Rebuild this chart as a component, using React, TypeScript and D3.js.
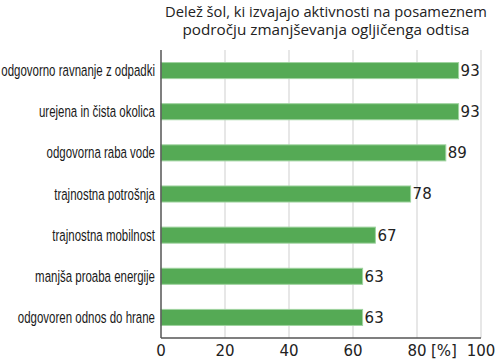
import React from "react";
import * as d3 from "d3";

const categories = [
  "odgovorno ravnanje z odpadki",
  "urejena in čista okolica",
  "odgovorna raba vode",
  "trajnostna potrošnja",
  "trajnostna mobilnost",
  "manjša proaba energije",
  "odgovoren odnos do hrane",
];
const values = [93, 93, 89, 78, 67, 63, 63];
const ticks = [0, 20, 40, 60, 80, 100];
const titleLines = [
  "Delež šol, ki izvajajo aktivnosti na posameznem",
  "področju zmanjševanja ogljičenga odtisa",
];

export default function App() {
  const W = 497, H = 360;
  const left = 161, right = 481, top = 50, bottom = 338;
  const x = d3.scaleLinear().domain([0, 100]).range([left, right]);
  const y = d3.scaleBand<string>().domain(categories).range([top, bottom]).paddingInner(0.61).paddingOuter(0.305);
  const labelFont = "'Liberation Sans', Arial, sans-serif";
  const numFont = "'DejaVu Sans', Verdana, sans-serif";
  const titleFont = "'Open Sans', 'DejaVu Sans', sans-serif";
  return (
    <svg width={W} height={H} style={{ position: "absolute", left: 0, top: 0, background: "#fff" }}>
      {titleLines.map((t, i) => (
        <text key={i} x={326} y={17 + i * 18} textAnchor="middle" fontFamily={titleFont} fontSize={15} fill="#222"
          textLength={i === 0 ? 322 : 287} lengthAdjust="spacingAndGlyphs">{t}</text>
      ))}
      {ticks.slice(1).map((t) => (
        <line key={t} x1={x(t)} x2={x(t)} y1={top} y2={bottom} stroke="#cfcfcf" strokeWidth={1} />
      ))}
      {categories.map((c, i) => (
        <g key={c}>
          <rect x={x(0)} y={y(c)!} width={x(values[i]) - x(0)} height={y.bandwidth()} fill="#55aa55" stroke="#9fd39f" strokeWidth={1} />
          <text x={x(values[i]) + 2} y={y(c)! + y.bandwidth() / 2} dy="0.36em" fontFamily={numFont} fontSize={15} fill="#222">{values[i]}</text>
          <g transform={`translate(${left - 6},${y(c)! + y.bandwidth() / 2}) scale(0.675,1)`}>
            <text x={0} y={0} dy="0.33em" textAnchor="end" fontFamily={labelFont} fontSize={17} fill="#1a1a1a">{c}</text>
          </g>
        </g>
      ))}
      <line x1={left} x2={left} y1={top} y2={bottom} stroke="#555" strokeWidth={1.5} />
      <line x1={left} x2={right} y1={bottom} y2={bottom} stroke="#555" strokeWidth={1.5} />
      {ticks.map((t) => (
        <text key={t} x={x(t)} y={356} textAnchor="middle" fontFamily={numFont} fontSize={15} fill="#222">{t}</text>
      ))}
      <text x={444} y={356} textAnchor="middle" fontFamily={numFont} fontSize={15} fill="#222">[%]</text>
    </svg>
  );
}
